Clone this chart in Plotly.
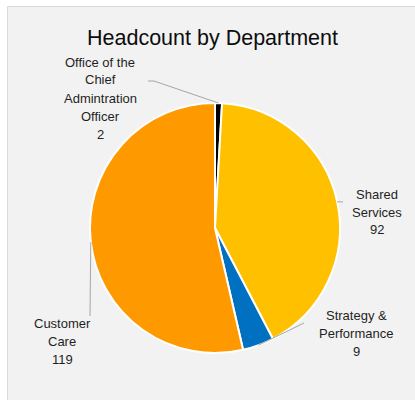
import math
import plotly.graph_objects as go

# ---- data ----
departments = ["Office of the Chief Administration Officer", "Shared Services",
               "Strategy & Performance", "Customer Care"]
label_texts = ["Office of the<br>Chief<br>Admintration<br>Officer<br>2",
               "Shared<br>Services<br>92",
               "Strategy &<br>Performance<br>9",
               "Customer<br>Care<br>119"]
headcount = [2, 92, 9, 119]
colors = ["#000000", "#FFC000", "#0070C0", "#FF9900"]

# ---- layout constants (pixels) ----
W, H = 415, 400
CX, CY, R = 215, 228, 125
label_anchor = [(100, 62), (377, 194), (356, 315), (62, 323)]   # first-line centers
line_gap = 18
elbows = [[(148, 81), (154, 81)], [(343, 202)], [(304, 323)], [(90, 316)]]

def px(x):
    return x / W

def py(y):
    return 1 - y / H

fig = go.Figure()
fig.add_trace(go.Pie(
    labels=departments, values=headcount, sort=False, direction="clockwise",
    rotation=0, textinfo="none", hoverinfo="label+value",
    marker=dict(colors=colors, line=dict(color="white", width=2)),
    domain=dict(x=[px(CX - R), px(CX + R)], y=[py(CY + R), py(CY - R)]),
    showlegend=False,
))

shapes = [dict(type="rect", xref="paper", yref="paper", layer="below",
               x0=px(7.5), x1=1.2, y0=-0.2, y1=py(6.5),
               fillcolor="#F2F2F2", line=dict(color="#D9D9D9", width=1))]

total = sum(headcount)
cum = 0
annotations = []
for i, v in enumerate(headcount):
    mid = (cum + v / 2) / total * 360
    cum += v
    ex = CX + R * math.sin(math.radians(mid))
    ey = CY - R * math.cos(math.radians(mid))
    pts = [(ex, ey)] + list(reversed(elbows[i])) if i == 0 else [(ex, ey)] + elbows[i]
    path = "M " + " L ".join(f"{px(x):.5f},{py(y):.5f}" for x, y in pts)
    shapes.append(dict(type="path", xref="paper", yref="paper", path=path,
                       line=dict(color="#A6A6A6", width=1)))
    ax, ay = label_anchor[i]
    for j, line in enumerate(label_texts[i].split("<br>")):
        annotations.append(dict(x=px(ax), y=py(ay + j * line_gap), xref="paper", yref="paper",
                                text=line, showarrow=False, xanchor="center", yanchor="middle",
                                font=dict(family="Liberation Sans, Arial", size=13, color="#1f1f1f")))

annotations.append(dict(x=px(212), y=py(38), xref="paper", yref="paper",
                        text="Headcount by Department", showarrow=False,
                        xanchor="center", yanchor="middle",
                        font=dict(family="Liberation Sans, Arial", size=21.5, color="#0d0d0d")))

fig.update_layout(width=W, height=H, margin=dict(l=0, r=0, t=0, b=0),
                  paper_bgcolor="white", plot_bgcolor="white",
                  shapes=shapes, annotations=annotations)

fig.write_html("out.html", config={"displayModeBar": False},
               post_script="document.body.style.margin='0';document.body.style.padding='0';")
